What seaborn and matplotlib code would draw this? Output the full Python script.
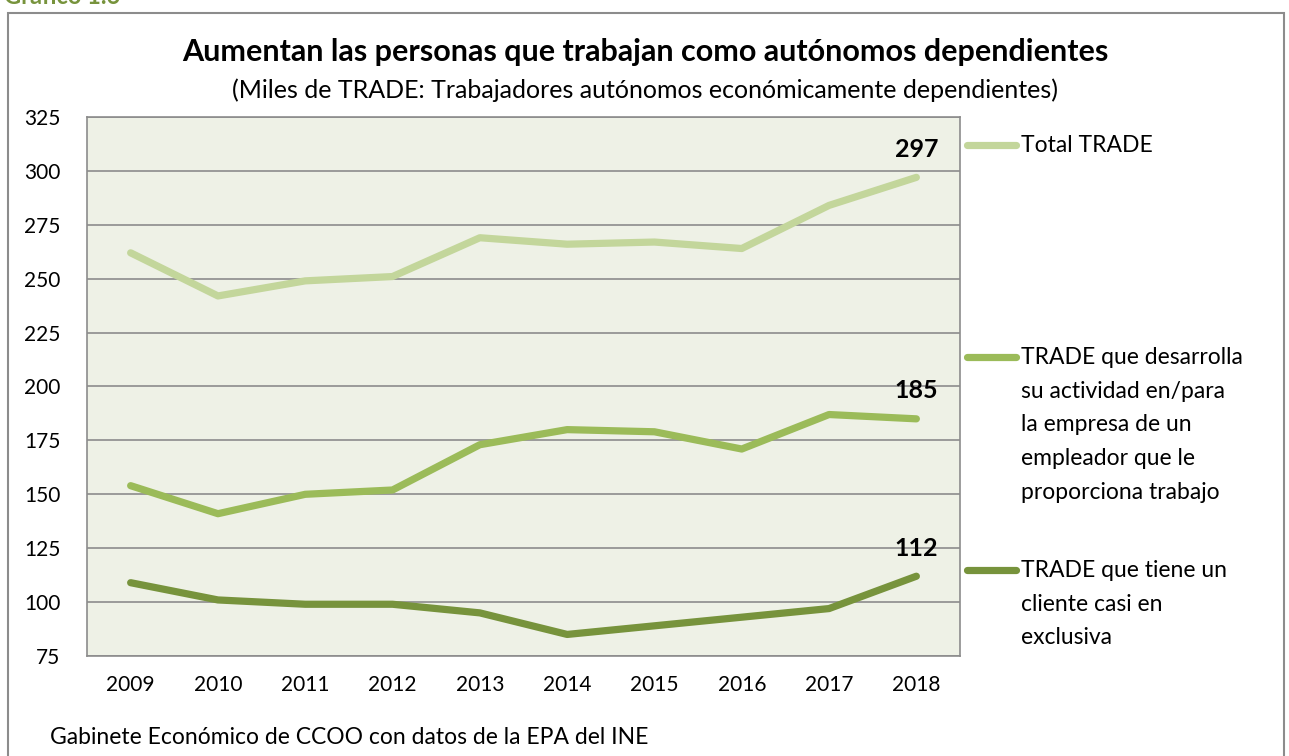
import matplotlib
matplotlib.use("Agg")
import matplotlib.pyplot as plt
import seaborn as sns
import pandas as pd
from matplotlib.patches import Rectangle

# === Datos ===
years = ["2009", "2010", "2011", "2012", "2013", "2014", "2015", "2016", "2017", "2018"]
total_trade = [262, 242, 249, 251, 269, 266, 267, 264, 284, 297]
trade_empresa = [154, 141, 150, 152, 173, 180, 179, 171, 187, 185]
trade_cliente = [109, 101, 99, 99, 95, 85, 89, 93, 97, 112]

series_names = [
    "Total TRADE",
    "TRADE que desarrolla\nsu actividad en/para\nla empresa de un\nempleador que le\nproporciona trabajo",
    "TRADE que tiene un\ncliente casi en\nexclusiva",
]
series_values = [total_trade, trade_empresa, trade_cliente]
colors = ["#c3d69b", "#9bbb59", "#77933c"]

sns.set_theme(style="white")
plt.rcParams["font.family"] = ["Lato", "DejaVu Sans"]

W, H = 1289, 756
fig = plt.figure(figsize=(W / 100, H / 100), dpi=100)
ax = fig.add_axes([87 / W, 1 - 656 / H, (960 - 87) / W, (656 - 117) / H])
ax.set_facecolor("#eef1e6")

x = list(range(len(years)))
for vals, col in zip(series_values, colors):
    df = pd.DataFrame({"x": x, "y": vals})
    sns.lineplot(data=df, x="x", y="y", ax=ax, color=col, linewidth=5.2,
                 solid_capstyle="round", solid_joinstyle="round")
    ax.annotate(str(vals[-1]), (x[-1], vals[-1]), xytext=(0, 12), textcoords="offset points",
                ha="center", va="bottom", fontsize=18, fontweight="bold", color="black")

ax.set_xlim(-0.5, len(years) - 0.5)
ax.set_ylim(75, 325)
ax.set_yticks(range(75, 326, 25))
ax.set_xticks(x)
ax.set_xticklabels(years)
ax.set_xlabel("")
ax.set_ylabel("")
ax.yaxis.grid(True, color="#8c8c8c", linewidth=1.2)
ax.xaxis.grid(False)
ax.tick_params(axis="both", length=0, labelsize=15, colors="black")
ax.tick_params(axis="y", pad=19)
ax.tick_params(axis="x", pad=14)
for s in ax.spines.values():
    s.set_color("#8c8c8c")
    s.set_linewidth(1.2)

# leyenda manual a la derecha
legend_y = [145, 357, 570]
for name, col, ly in zip(series_names, colors, legend_y):
    yy = 1 - ly / H
    fig.add_artist(plt.Line2D([967 / W, 1016 / W], [yy, yy], color=col, linewidth=5.2,
                              solid_capstyle="round"))
    fig.text(1021 / W, yy + 10 / H, name, ha="left", va="top", fontsize=16.5,
             linespacing=1.75, color="black")

# titulos
fig.text(645 / W, 1 - 52 / H, "Aumentan las personas que trabajan como autónomos dependientes",
         ha="center", va="center", fontsize=22, fontweight="bold", color="black")
fig.text(645 / W, 1 - 90 / H, "(Miles de TRADE: Trabajadores autónomos económicamente dependientes)",
         ha="center", va="center", fontsize=18, color="black")
fig.text(50 / W, 1 - 738 / H, "Gabinete Económico de CCOO con datos de la EPA del INE",
         ha="left", va="center", fontsize=16.5, color="black")
fig.text(4 / W, 1 + 4 / H, "Gráfico 1.6", ha="left", va="center", fontsize=17,
         fontweight="bold", color="#77933c")

# marco exterior
fig.add_artist(Rectangle((8 / W, -0.05), (1284 - 8) / W, 1 - 13 / H + 0.05,
                         transform=fig.transFigure, fill=False, edgecolor="#8c8c8c", linewidth=1.5))

fig.savefig("out.png", dpi=100)
